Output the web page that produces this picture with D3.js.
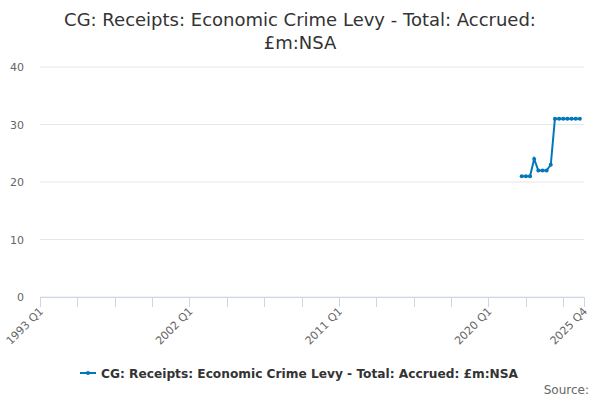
<!DOCTYPE html>
<html>
<head>
<meta charset="utf-8">
<script src="https://cdn.jsdelivr.net/npm/d3@7"></script>
<style>
  body { margin: 0; background: #fff; }
  text { font-family: "DejaVu Sans", sans-serif; }
</style>
</head>
<body>
<div id="chart"></div>
<script>
// Chart data
var quarters = [];
for (var yr = 1993; yr <= 2025; yr++) {
  for (var q = 1; q <= 4; q++) quarters.push(yr + " Q" + q);
}
var seriesStart = "2022 Q1";
var seriesValues = [21, 21, 21, 24, 22, 22, 22, 23, 31, 31, 31, 31, 31, 31, 31];
var yTicks = [0, 10, 20, 30, 40];
var xLabels = ["1993 Q1", "2002 Q1", "2011 Q1", "2020 Q1", "2025 Q4"];

var svgWidth = 600;
var svgHeight = 400;

var margin = { top: 67, right: 16, bottom: 103, left: 40 };
var width = svgWidth - margin.left - margin.right;
var height = svgHeight - margin.top - margin.bottom;

var svg = d3.select("#chart")
  .append("svg")
  .attr("width", svgWidth)
  .attr("height", svgHeight);

// Title
var title = svg.append("text")
  .attr("text-anchor", "middle")
  .attr("fill", "#333")
  .style("font-size", "18px");
title.append("tspan").attr("x", 300).attr("y", 26).text("CG: Receipts: Economic Crime Levy - Total: Accrued:");
title.append("tspan").attr("x", 300).attr("y", 49).text("£m:NSA");

var chartGroup = svg.append("g")
  .attr("transform", `translate(${margin.left}, ${margin.top})`);

var xScale = d3.scaleLinear()
  .domain([0, quarters.length - 1])
  .range([0, width]);

var yScale = d3.scaleLinear()
  .domain([0, 40])
  .range([height, 0]);

// Gridlines
chartGroup.selectAll(".grid")
  .data(yTicks)
  .enter()
  .append("line")
  .attr("x1", 0)
  .attr("x2", width)
  .attr("y1", d => yScale(d))
  .attr("y2", d => yScale(d))
  .attr("stroke", "#e6e6e6")
  .attr("stroke-width", 1);

// Y labels
chartGroup.selectAll(".ylab")
  .data(yTicks)
  .enter()
  .append("text")
  .attr("x", -16)
  .attr("y", d => yScale(d) + 4)
  .attr("text-anchor", "end")
  .attr("fill", "#666")
  .style("font-size", "11px")
  .text(d => d);

// X axis line
chartGroup.append("line")
  .attr("x1", 0)
  .attr("x2", width)
  .attr("y1", height + 0.5)
  .attr("y2", height + 0.5)
  .attr("stroke", "#ccd6eb");

// X ticks every 9 quarters plus the last one
var tickIdx = d3.range(0, quarters.length, 9);
tickIdx.push(quarters.length - 1);
chartGroup.selectAll(".xtick")
  .data(tickIdx)
  .enter()
  .append("line")
  .attr("x1", d => Math.round(xScale(d)) + 0.5)
  .attr("x2", d => Math.round(xScale(d)) + 0.5)
  .attr("y1", height)
  .attr("y2", height + 10)
  .attr("stroke", "#ccd6eb");

// X labels
chartGroup.selectAll(".xlab")
  .data(xLabels)
  .enter()
  .append("text")
  .attr("transform", d => `translate(${xScale(quarters.indexOf(d)) + 4}, ${height + 15}) rotate(-45)`)
  .attr("text-anchor", "end")
  .attr("fill", "#666")
  .style("font-size", "11px")
  .text(d => d);

// Series
var startIdx = quarters.indexOf(seriesStart);
var points = seriesValues.map((v, i) => ({ i: startIdx + i, v: v }));

var line = d3.line()
  .x(d => xScale(d.i))
  .y(d => yScale(d.v));

chartGroup.append("path")
  .datum(points)
  .attr("d", line)
  .attr("fill", "none")
  .attr("stroke", "#0077bb")
  .attr("stroke-width", 2);

chartGroup.selectAll(".pt")
  .data(points)
  .enter()
  .append("circle")
  .attr("cx", d => xScale(d.i))
  .attr("cy", d => yScale(d.v))
  .attr("r", 2)
  .attr("fill", "#0077bb");

// Legend
var legend = svg.append("g").attr("transform", "translate(80, 373)");
legend.append("line")
  .attr("x1", 0).attr("x2", 16)
  .attr("y1", 0).attr("y2", 0)
  .attr("stroke", "#0077bb").attr("stroke-width", 2);
legend.append("circle")
  .attr("cx", 8).attr("cy", 0).attr("r", 2).attr("fill", "#0077bb");
legend.append("text")
  .attr("x", 21)
  .attr("y", 5)
  .attr("fill", "#333")
  .style("font-size", "12.2px")
  .style("font-weight", "bold")
  .text("CG: Receipts: Economic Crime Levy - Total: Accrued: £m:NSA");

// Source
svg.append("text")
  .attr("x", 589)
  .attr("y", 394)
  .attr("text-anchor", "end")
  .attr("fill", "#666")
  .style("font-size", "12px")
  .text("Source:");
</script>
</body>
</html>
